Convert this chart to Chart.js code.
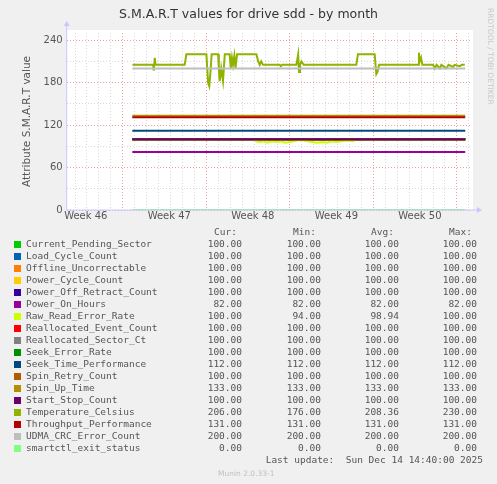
<!DOCTYPE html>
<html><head><meta charset="utf-8">
<script src="https://cdn.jsdelivr.net/npm/chart.js@4"></script>
<style>
body{margin:0;background:#f0f0f0;width:497px;height:484px;overflow:hidden;position:relative;font-family:"DejaVu Sans Mono",monospace;}
#c{position:absolute;left:0;top:0;}
.t{position:absolute;white-space:pre;color:#555;font-size:9.5px;line-height:12px;}
.sw{position:absolute;width:7px;height:7px;}
</style></head><body>
<canvas id="c" width="497" height="484"></canvas>
<div id="leg"></div>
<script>
const names=["Current_Pending_Sector","Load_Cycle_Count","Offline_Uncorrectable","Power_Cycle_Count","Power_Off_Retract_Count","Power_On_Hours","Raw_Read_Error_Rate","Reallocated_Event_Count","Reallocated_Sector_Ct","Seek_Error_Rate","Seek_Time_Performance","Spin_Retry_Count","Spin_Up_Time","Start_Stop_Count","Temperature_Celsius","Throughput_Performance","UDMA_CRC_Error_Count","smartctl_exit_status"];
const colors=["#00CC00","#0066B3","#FF8000","#FFCC00","#330099","#990099","#CCFF00","#FF0000","#808080","#008F00","#00487D","#B35A00","#B38F00","#6B006B","#8FB300","#B30000","#BEBEBE","#80FF80"];
const curV=["100.00","100.00","100.00","100.00","100.00","82.00","100.00","100.00","100.00","100.00","112.00","100.00","133.00","100.00","206.00","131.00","200.00","0.00"];
const minV=["100.00","100.00","100.00","100.00","100.00","82.00","94.00","100.00","100.00","100.00","112.00","100.00","133.00","100.00","176.00","131.00","200.00","0.00"];
const avgV=["100.00","100.00","100.00","100.00","100.00","82.00","98.94","100.00","100.00","100.00","112.00","100.00","133.00","100.00","208.36","131.00","200.00","0.00"];
const maxV=["100.00","100.00","100.00","100.00","100.00","82.00","100.00","100.00","100.00","100.00","112.00","100.00","133.00","100.00","230.00","131.00","200.00","0.00"];
const constVals=[100,100,100,100,100,82,null,100,100,100,112,100,133,100,null,131,200,0];
const startDay=5.5, endDay=33.4;
const weekLabels=["Week 46","Week 47","Week 48","Week 49","Week 50"];
const weekLabelDays=[1.6,8.6,15.6,22.6,29.6];
const weekStartDays=[4.7,11.7,18.7,25.7,32.7];
const tempDays=[5.51,7.24,7.30,7.38,7.45,7.52,9.89,10.03,11.71,11.78,11.85,11.95,12.05,12.15,12.27,12.69,12.75,12.82,12.95,13.10,13.25,13.66,13.75,13.85,13.94,14.05,14.15,14.22,14.28,15.90,16.05,16.18,16.30,16.45,17.85,17.95,18.05,18.13,19.25,19.40,19.47,19.55,19.67,19.86,24.27,24.41,25.81,25.95,26.05,26.18,29.45,29.52,29.59,29.70,29.81,30.00,30.71,30.85,31.00,31.27,31.40,31.83,32.00,32.38,32.50,32.94,33.10,33.36];
const tempVals=[205,205,197,215,205,205,205,220,220,200,180,175,195,220,220,220,200,182,200,182,220,220,200,215,205,218,200,212,220,220,210,205,210,205,205,203,205,205,205,220,195,205,210,205,205,220,220,192,195,205,205,222,210,215,205,205,205,200,205,200,205,200,205,202,205,203,205,205];
const rawDays=[5.51,15.7,15.9,16.2,16.5,16.8,17.2,17.6,18.0,18.3,18.7,19.0,19.3,19.7,20.2,20.6,21.0,21.4,21.8,22.2,22.6,23.0,23.5,24.0,24.2,33.4];
const rawVals=[100,100,97,96,97,95,97,96,97,95,96,97,98,99,97,96,95,96,95,97,96,97,98,97,100,100];

const ds=[];
names.forEach((n,i)=>{
  let data;
  if(i===14) data=tempDays.map((d,k)=>({x:d,y:tempVals[k]}));
  else if(i===6) data=rawDays.map((d,k)=>({x:d,y:rawVals[k]}));
  else data=[{x:startDay,y:constVals[i]},{x:endDay,y:constVals[i]}];
  ds.push({label:n,data,borderColor:colors[i],backgroundColor:colors[i],borderWidth:2,pointRadius:0,fill:false,tension:0,order:18-i});
});
const bgPlugin={id:'bg',beforeDraw(ch){const a=ch.chartArea,c=ch.ctx;c.save();c.fillStyle='#fff';c.fillRect(a.left,a.top-3,a.right-a.left+3,a.bottom-a.top+3);c.restore();},
 afterDraw(ch){const a=ch.chartArea,c=ch.ctx;c.save();c.strokeStyle='#c8c8ff';c.fillStyle='#c8c8ff';c.lineWidth=1;
  c.beginPath();c.moveTo(a.left,a.bottom);c.lineTo(a.right+8,a.bottom);c.moveTo(a.left,a.bottom);c.lineTo(a.left,a.top-8);c.stroke();
  c.beginPath();c.moveTo(a.right+12,a.bottom);c.lineTo(a.right+7,a.bottom-3);c.lineTo(a.right+7,a.bottom+3);c.fill();
  c.beginPath();c.moveTo(a.left,a.top-12);c.lineTo(a.left-3,a.top-7);c.lineTo(a.left+3,a.top-7);c.fill();c.restore();}};
new Chart(document.getElementById('c'),{type:'line',data:{datasets:ds},plugins:[bgPlugin],
options:{responsive:false,animation:false,events:[],layout:{padding:{left:17,top:33,right:27,bottom:262}},
 plugins:{legend:{display:false},tooltip:{enabled:false},title:{display:false}},
 scales:{
  x:{type:'linear',min:0,max:33.8,
   afterBuildTicks(s){const t=[];for(let d=0.7;d<33.8;d+=1)t.push({value:+d.toFixed(2)});weekLabelDays.forEach(v=>t.push({value:v}));s.ticks=t;},
   ticks:{autoSkip:false,maxRotation:0,color:'#555',font:{family:'DejaVu Sans',size:10},padding:0,
    callback(v){const k=weekLabelDays.indexOf(v);return k>=0?weekLabels[k]:'';}},
   grid:{drawTicks:false,color(c){const v=c.tick.value;if(weekLabelDays.includes(v))return 'rgba(0,0,0,0)';return weekStartDays.some(w=>Math.abs(w-v)<0.01)?'#f0a0a0':'#d8d8d8';}},
   border:{display:false,dash:[1,2]}},
  y:{min:0,max:250,afterBuildTicks(s){const t=[];for(let v=0;v<=250;v+=10)t.push({value:v});s.ticks=t;},
   ticks:{color:'#555',font:{family:'DejaVu Sans',size:10},padding:4,callback(v){return v%20===0&&v<=240?String(v):'';}},
   grid:{drawTicks:false,color(c){return c.tick.value%20===0?'#f0a0a0':'#d8d8d8';}},
   border:{display:false,dash:[1,2]},
   title:{display:true,text:'Attribute S.M.A.R.T value',color:'#555',font:{family:'DejaVu Sans',size:10.5},padding:{bottom:6}}},
 }}
});
</script>
<script>
const leg=document.getElementById('leg');
function add(txt,x,y,right,extra){const d=document.createElement('div');d.className='t';d.textContent=txt;d.style.top=y+'px';if(right)d.style.right=(497-x)+'px';else d.style.left=x+'px';if(extra)Object.assign(d.style,extra);leg.appendChild(d);}
add("S.M.A.R.T values for drive sdd - by month",0,6,false,{width:'497px',textAlign:'center',fontFamily:'DejaVu Sans',fontSize:'12.5px',color:'#333',lineHeight:'15px'});
const cols=[242,321,399,477];
["Cur:","Min:","Avg:","Max:"].forEach((h,k)=>add(h,cols[k]-5,226,true));
names.forEach((n,i)=>{const y=238+i*12;
 const s=document.createElement('div');s.className='sw';s.style.left='14px';s.style.top=(y+3)+'px';s.style.background=colors[i];leg.appendChild(s);
 add(n,26,y,false);[curV,minV,avgV,maxV].forEach((arr,k)=>add(arr[i],cols[k],y,true));});
add("Last update:  Sun Dec 14 14:40:00 2025",483,454,true);
add("Munin 2.0.33-1",218,468,false,{fontFamily:'DejaVu Sans',fontSize:'7.5px',color:'#c0c0c0'});
add("RRDTOOL / TOBI OETIKER",484,8,false,{fontFamily:'DejaVu Sans',fontSize:'7.5px',color:'#c8c8c8',writingMode:'vertical-rl'});
</script>
</body></html>
